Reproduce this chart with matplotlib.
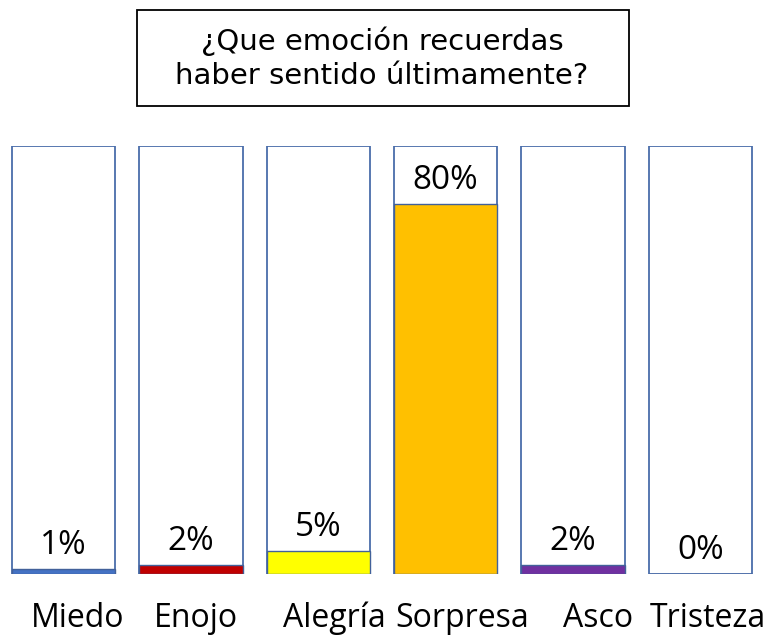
import matplotlib.pyplot as plt
from matplotlib.patches import Rectangle
from matplotlib.transforms import ScaledTranslation

# datos de la encuesta
emociones = ['Miedo', 'Enojo', 'Alegría', 'Sorpresa', 'Asco', 'Tristeza']
porcentajes = [1, 2, 5, 80, 2, 0]
colores = ['#4472C4', '#C00000', '#FFFF00', '#FFC000', '#7030A0', 'none']
titulo = '¿Que emoción recuerdas\nhaber sentido últimamente?'

tope = 92.5  # altura del marco de cada barra
desplaz_px = [14, 5, 16, 17, 25, 8]  # corrimiento de las etiquetas de abajo

fig = plt.figure(figsize=(7.7, 6.37), dpi=100)
ax = fig.add_axes([0.0, 63 / 637, 764 / 770, 428 / 637])

x = range(len(emociones))
# marcos vacios
ax.bar(x, [tope] * len(emociones), width=0.81, facecolor='white',
       edgecolor='#4A6DAA', linewidth=1.3, zorder=1)
# relleno
ax.bar(x, porcentajes, width=0.81, color=colores,
       edgecolor='#42619A', linewidth=1.0, zorder=2)

for i, v in enumerate(porcentajes):
    ax.annotate(f'{v}%', (i, v), xytext=(0, 17), textcoords='offset points',
                ha='center', va='center', fontsize=24, family='Open Sans',
                color='black', zorder=3)

ax.set_xlim(-0.5, 5.5)
ax.set_ylim(0, tope)
ax.set_xticks(list(x))
ax.set_xticklabels(emociones, fontsize=23, family='Open Sans')
ax.tick_params(axis='x', length=0, pad=20)
ax.set_yticks([])
for s in ax.spines.values():
    s.set_visible(False)
for lab, dx in zip(ax.get_xticklabels(), desplaz_px):
    lab.set_transform(lab.get_transform() + ScaledTranslation(dx / 100, 0, fig.dpi_scale_trans))

# recuadro del titulo
fig.add_artist(Rectangle((137 / 770, 1 - 106 / 637), 492 / 770, 96 / 637,
                         transform=fig.transFigure, fill=False,
                         edgecolor='black', linewidth=1.3))
fig.text(382 / 770, 1 - 58 / 637, titulo, ha='center', va='center',
         fontsize=21, family='DejaVu Sans', linespacing=1.25)

fig.savefig('out.png', dpi=100)
